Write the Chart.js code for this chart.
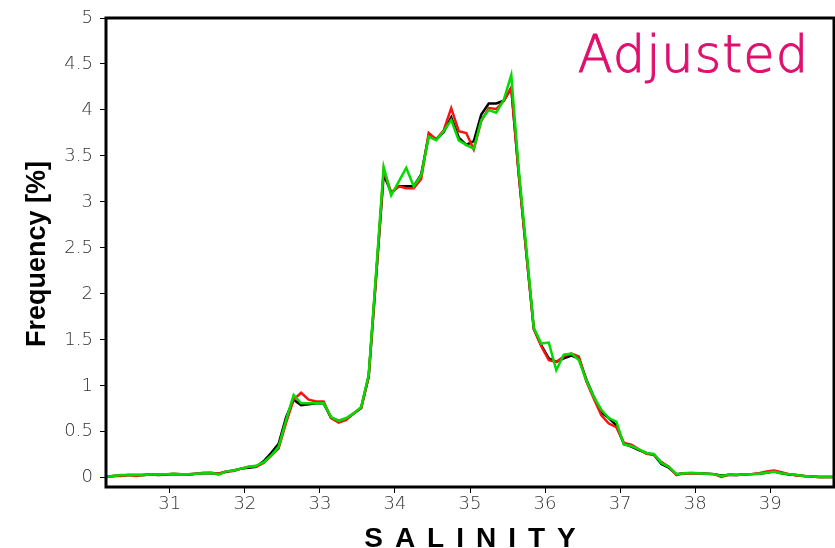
<!DOCTYPE html>
<html>
<head>
<meta charset="utf-8">
<script src="https://cdn.jsdelivr.net/npm/chart.js@4.4.0/dist/chart.umd.min.js"></script>
<style>
  body { margin: 0; background: #fff; }
  canvas { display: block; }
</style>
</head>
<body>
<canvas id="salinityChart" width="835" height="548"></canvas>
<script>
// salinity bin centres (0.1 wide)
const salinityBins = [
  30.15, 30.25, 30.35, 30.45, 30.55, 30.65, 30.75, 30.85, 30.95, 31.05,
  31.15, 31.25, 31.35, 31.45, 31.55, 31.65, 31.75, 31.85, 31.95, 32.05,
  32.15, 32.25, 32.35, 32.45, 32.55, 32.65, 32.75, 32.85, 32.95, 33.05,
  33.15, 33.25, 33.35, 33.45, 33.55, 33.65, 33.75, 33.85, 33.95, 34.05,
  34.15, 34.25, 34.35, 34.45, 34.55, 34.65, 34.75, 34.85, 34.95, 35.05,
  35.15, 35.25, 35.35, 35.45, 35.55, 35.65, 35.75, 35.85, 35.95, 36.05,
  36.15, 36.25, 36.35, 36.45, 36.55, 36.65, 36.75, 36.85, 36.95, 37.05,
  37.15, 37.25, 37.35, 37.45, 37.55, 37.65, 37.75, 37.85, 37.95, 38.05,
  38.15, 38.25, 38.35, 38.45, 38.55, 38.65, 38.75, 38.85, 38.95, 39.05,
  39.15, 39.25, 39.35, 39.45, 39.55, 39.65, 39.75, 39.85
];

// frequency [%] per bin
const freqBlack = [
  0.01, 0.02, 0.025, 0.03, 0.03, 0.03, 0.035, 0.03, 0.035, 0.04,
  0.04, 0.035, 0.045, 0.05, 0.05, 0.045, 0.065, 0.08, 0.10, 0.11,
  0.12, 0.18, 0.27, 0.37, 0.66, 0.85, 0.79, 0.80, 0.81, 0.81,
  0.65, 0.62, 0.64, 0.70, 0.76, 1.10, 2.20, 3.30, 3.10, 3.17,
  3.17, 3.17, 3.30, 3.72, 3.68, 3.76, 3.92, 3.70, 3.62, 3.66,
  3.95, 4.07, 4.07, 4.10, 4.24, 3.30, 2.45, 1.62, 1.44, 1.30,
  1.26, 1.30, 1.33, 1.30, 1.07, 0.88, 0.71, 0.65, 0.57, 0.37,
  0.34, 0.30, 0.27, 0.25, 0.15, 0.11, 0.04, 0.05, 0.05, 0.05,
  0.045, 0.04, 0.025, 0.03, 0.03, 0.035, 0.04, 0.045, 0.055, 0.07,
  0.05, 0.035, 0.03, 0.02, 0.015, 0.01, 0.01, 0.01
];

const freqRed = [
  0.01, 0.02, 0.02, 0.03, 0.02, 0.03, 0.035, 0.035, 0.035, 0.045,
  0.04, 0.04, 0.045, 0.055, 0.055, 0.045, 0.07, 0.075, 0.10, 0.12,
  0.12, 0.16, 0.24, 0.32, 0.60, 0.85, 0.925, 0.85, 0.83, 0.83,
  0.65, 0.60, 0.63, 0.70, 0.76, 1.10, 2.20, 3.35, 3.10, 3.17,
  3.15, 3.15, 3.25, 3.75, 3.68, 3.78, 4.02, 3.77, 3.75, 3.57,
  3.88, 4.02, 4.01, 4.10, 4.24, 3.30, 2.45, 1.62, 1.43, 1.28,
  1.26, 1.32, 1.35, 1.32, 1.05, 0.86, 0.68, 0.59, 0.55, 0.38,
  0.36, 0.31, 0.26, 0.25, 0.17, 0.12, 0.03, 0.05, 0.05, 0.05,
  0.045, 0.04, 0.01, 0.035, 0.03, 0.035, 0.04, 0.05, 0.07, 0.08,
  0.06, 0.04, 0.025, 0.02, 0.015, 0.01, 0.01, 0.01
];

const freqGreen = [
  0.01, 0.02, 0.03, 0.03, 0.03, 0.03, 0.035, 0.035, 0.04, 0.045,
  0.04, 0.04, 0.045, 0.05, 0.055, 0.035, 0.07, 0.08, 0.10, 0.12,
  0.13, 0.17, 0.24, 0.34, 0.63, 0.90, 0.81, 0.81, 0.81, 0.81,
  0.66, 0.62, 0.65, 0.70, 0.77, 1.12, 2.25, 3.38, 3.07, 3.22,
  3.37, 3.17, 3.29, 3.71, 3.67, 3.77, 3.89, 3.67, 3.62, 3.58,
  3.89, 4.00, 3.97, 4.11, 4.38, 3.35, 2.50, 1.63, 1.46, 1.47,
  1.17, 1.34, 1.35, 1.28, 1.06, 0.88, 0.74, 0.65, 0.61, 0.36,
  0.345, 0.31, 0.27, 0.26, 0.16, 0.12, 0.04, 0.05, 0.055, 0.05,
  0.045, 0.04, 0.02, 0.035, 0.03, 0.035, 0.04, 0.045, 0.055, 0.065,
  0.05, 0.04, 0.03, 0.02, 0.015, 0.01, 0.01, 0.01
];

const xTicks = [31, 32, 33, 34, 35, 36, 37, 38, 39];
const yTicks = [0, 0.5, 1, 1.5, 2, 2.5, 3, 3.5, 4, 4.5, 5];

const toPoints = (vals) => vals.map((v, i) => ({ x: salinityBins[i], y: v }));

const tickFont = { family: '"DejaVu Sans ExtraLight", "DejaVu Sans"', size: 18, weight: '200' };

// box round the plot + the free texts (GrADS style)
const framePlugin = {
  id: 'frame',
  afterDraw(chart) {
    const ctx = chart.ctx;
    const a = chart.chartArea;
    ctx.save();
    ctx.strokeStyle = '#000';
    ctx.lineWidth = 3;
    ctx.strokeRect(a.left, a.top, a.right - a.left, a.bottom - a.top);

    // label in the corner, a touch heavier than the extralight face
    ctx.fillStyle = '#e0106e';
    ctx.strokeStyle = '#e0106e';
    ctx.lineWidth = 1;
    ctx.font = '200 51px "DejaVu Sans ExtraLight", "DejaVu Sans"';
    ctx.letterSpacing = '1px';
    ctx.textAlign = 'right';
    ctx.textBaseline = 'alphabetic';
    ctx.fillText('Adjusted', 809, 72);
    ctx.strokeText('Adjusted', 809, 72);
    ctx.letterSpacing = '0px';

    // y title
    ctx.fillStyle = '#000';
    ctx.font = 'bold 27px "Liberation Sans"';
    ctx.translate(45, 254);
    ctx.rotate(-Math.PI / 2);
    ctx.textAlign = 'center';
    ctx.fillText('Frequency [%]', 0, 0);
    ctx.setTransform(1, 0, 0, 1, 0, 0);

    // x title, spread out letters
    const title = 'SALINITY';
    ctx.font = 'bold 28px "Liberation Sans"';
    ctx.textAlign = 'left';
    const gap = 12;
    let w = -gap;
    for (const c of title) w += ctx.measureText(c).width + gap;
    let x = (a.left + a.right) / 2 - w / 2;
    for (const c of title) {
      ctx.fillText(c, x, 547);
      x += ctx.measureText(c).width + gap;
    }
    ctx.restore();
  }
};

new Chart(document.getElementById('salinityChart'), {
  type: 'line',
  data: {
    datasets: [
      { data: toPoints(freqGreen), borderColor: 'rgb(0,220,0)' },
      { data: toPoints(freqRed), borderColor: 'rgb(245,20,20)' },
      { data: toPoints(freqBlack), borderColor: '#000' }
    ]
  },
  options: {
    responsive: false,
    animation: false,
    devicePixelRatio: 1,
    layout: { padding: { top: 18, right: 1 } },
    elements: {
      line: { borderWidth: 2.5, tension: 0 },
      point: { radius: 0 }
    },
    plugins: {
      legend: { display: false },
      tooltip: { enabled: false }
    },
    scales: {
      x: {
        type: 'linear',
        min: 30.15,
        max: 39.85,
        afterBuildTicks: (s) => { s.ticks = xTicks.map(v => ({ value: v })); },
        afterFit: (s) => { s.height = 61; },
        grid: { drawOnChartArea: false, tickLength: 6, color: '#000' },
        border: { display: false },
        ticks: { font: tickFont, color: '#333', padding: 1, maxRotation: 0, callback: (v) => String(v) }
      },
      y: {
        min: -0.1,
        max: 5,
        afterBuildTicks: (s) => { s.ticks = yTicks.map(v => ({ value: v })); },
        afterFit: (s) => { s.width = 106; },
        grid: { drawOnChartArea: false, tickLength: 6, color: '#000' },
        border: { display: false },
        ticks: { font: tickFont, color: '#333', padding: 7, callback: (v) => String(v) }
      }
    }
  },
  plugins: [framePlugin]
});
</script>
</body>
</html>
